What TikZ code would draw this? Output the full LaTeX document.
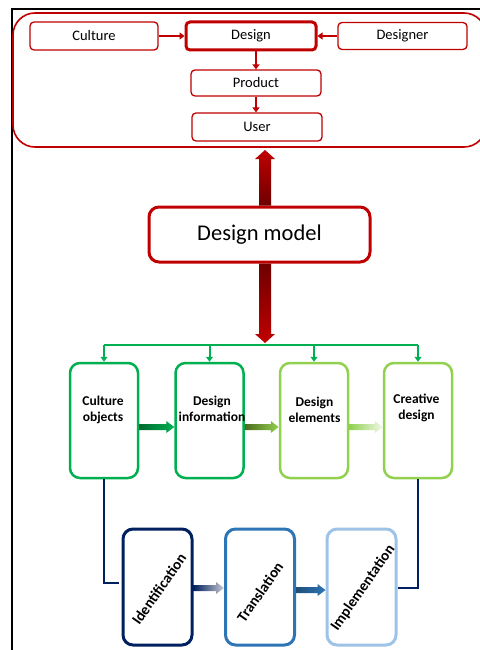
\documentclass[tikz,border=0pt]{standalone}
\usepackage{fontspec}
\setmainfont{Carlito}
\usetikzlibrary{calc,arrows.meta}
\definecolor{redc}{HTML}{C00000}
\definecolor{darkredc}{HTML}{6E0000}
\definecolor{greenA}{HTML}{00B050}
\definecolor{greenD}{HTML}{006B30}
\definecolor{greenB}{HTML}{92D050}
\definecolor{oliveD}{HTML}{4E6B1E}
\definecolor{greenW}{HTML}{F0F8E8}
\definecolor{navyc}{HTML}{002060}
\definecolor{blueM}{HTML}{2E75B6}
\definecolor{blueD}{HTML}{1F4E79}
\definecolor{blueL}{HTML}{9DC3E6}
\definecolor{greyL}{HTML}{C8CAD0}
\newcommand{\gradharrow}[4]{%
  \shade[left color=#3,right color=#4] let \p1=#1, \p2=#2 in
  (\x1,\y1+3pt) -- (\x2-8pt,\y1+3pt) -- (\x2-8pt,\y1+6pt) -- (\x2,\y1) --
  (\x2-8pt,\y1-6pt) -- (\x2-8pt,\y1-3pt) -- (\x1,\y1-3pt) -- cycle;}
\begin{document}
\begin{tikzpicture}[x=1pt,y=-1pt,
  redbox/.style={draw=redc,line width=1.3pt,rounded corners=4pt,inner sep=0pt,
    font=\fontsize{14.5}{16}\selectfont},
  redarrow/.style={redc,line width=2pt,-{Triangle[length=5pt,width=7pt]}},
  greenbox/.style={line width=2.5pt,rounded corners=10pt,minimum width=68pt,
    minimum height=115pt,inner sep=0pt},
  gtext/.style={font=\bfseries\fontsize{13.5}{16.5}\selectfont,align=center,inner sep=0pt},
  greenline/.style={greenA,line width=2pt},
  bluebox/.style={line width=3pt,rounded corners=10pt,minimum width=69pt,
    minimum height=116pt,inner sep=0pt},
  rtext/.style={font=\bfseries\fontsize{15}{18}\selectfont,rotate=55,inner sep=0pt},
  navyline/.style={navyc,line width=2.5pt}]
\useasboundingbox (0,0) rectangle (479,650);
\draw[line width=1.6pt] (480,9) -- (12,9) -- (12,651);
% top frame
\node[draw=redc,line width=1.6pt,rounded corners=22pt,minimum width=473pt,
  minimum height=134pt,inner sep=0pt] (frame) at (249.5,80) {};
\node[redbox,minimum width=128pt,minimum height=28pt] (culture) at (94,36) {Culture};
\node[redbox,line width=3pt,minimum width=130pt,minimum height=28pt] (design) at (251,36) {Design};
\node[redbox,minimum width=129pt,minimum height=27pt] (designer) at (402.5,36) {Designer};
\node[redbox,minimum width=130pt,minimum height=26pt] (product) at (256,83) {Product};
\node[redbox,minimum width=130pt,minimum height=28pt] (user) at (257,127) {User};
\draw[redarrow] (culture) -- (design);
\draw[redarrow] (designer) -- (design);
\draw[redarrow] (design.south -| product) -- (product);
\draw[redarrow] (product.south) -- (product.south |- user.north);
% design model
\node[draw=redc,line width=3pt,rounded corners=10pt,minimum width=221pt,
  minimum height=55pt,font=\fontsize{22.5}{26}\selectfont] (model) at (259.5,234.5) {Design model};
\coordinate (tipU) at (265,150);
\coordinate (bus) at (265,345);
\shade[top color=redc,bottom color=darkredc] let \p1=(tipU), \p2=(model.north) in
  (\x1-6pt,\y2) -- (\x1-6pt,\y1-9pt) -- (\x1-10pt,\y1-9pt) -- (\x1,\y1) --
  (\x1+10pt,\y1-9pt) -- (\x1+6pt,\y1-9pt) -- (\x1+6pt,\y2) -- cycle;
\shade[top color=darkredc,bottom color=redc] let \p1=(bus), \p2=(model.south) in
  (\x1-6pt,\y2) -- (\x1-6pt,\y1+11pt) -- (\x1-10pt,\y1+11pt) -- (\x1,\y1+2pt) --
  (\x1+10pt,\y1+11pt) -- (\x1+6pt,\y1+11pt) -- (\x1+6pt,\y2) -- cycle;
% green row
\node[greenbox,draw=greenA] (co) at (104,420.5) {};
\node[greenbox,draw=greenA] (di) at (209.5,420.5) {};
\node[greenbox,draw=greenB] (de) at (314,420.5) {};
\node[greenbox,draw=greenB] (cd) at (418,420.5) {};
\node[gtext] (cot) at (103,410) {Culture\\objects};
\node[gtext] (dit) at (212,409) {Design\\information};
\node[gtext] (det) at (314.5,410) {Design\\elements};
\node[gtext] (cdt) at (416.5,408) {Creative\\design};
\draw[greenline] (co.north |- bus) -- (cd.north |- bus);
\foreach \b in {co,di,de,cd}
  \draw[greenline,-{Triangle[length=5pt,width=7pt]}] (\b.north |- bus) -- (\b.north);
\gradharrow{($(co.east)+(0,6.5)$)}{(di.west)}{greenD}{greenA}
\gradharrow{($(di.east)+(0,6.5)$)}{(de.west)}{oliveD}{greenB}
\gradharrow{($(de.east)+(0,6.5)$)}{(cd.west)}{greenB}{greenW}
% blue row
\node[bluebox,draw=navyc] (id) at (157.5,587) {};
\node[bluebox,draw=blueM] (tr) at (260,587) {};
\node[bluebox,draw=blueL] (im) at (361.5,587) {};
\node[rtext] (idt) at (159,589) {Identification};
\node[rtext] (trt) at (260,592) {Translation};
\node[rtext] (imt) at (363,588) {Implementation};
\draw[navyline] (co.south) |- ($(id.west)+(-3,-4)$);
\draw[navyline] (cd.south) |- ($(im.east)+(0,1)$);
\gradharrow{($(id.east)+(0,1)$)}{(tr.west)}{navyc}{greyL}
\gradharrow{($(tr.east)+(0,3)$)}{(im.west)}{blueD}{blueM}
\end{tikzpicture}
\end{document}
